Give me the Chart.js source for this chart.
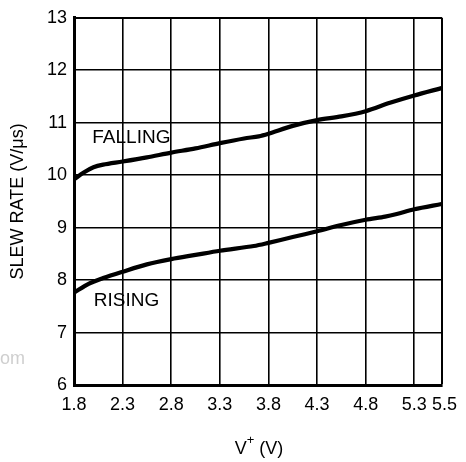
<!DOCTYPE html>
<html>
<head>
<meta charset="utf-8">
<script src="https://cdn.jsdelivr.net/npm/chart.js@4"></script>
<style>
  html, body { margin: 0; padding: 0; background: #fff; }
  #wrap { width: 466px; height: 462px; position: relative; }
</style>
</head>
<body>
<div id="wrap"><canvas id="c"></canvas></div>
<script>
// ---- data ----
const fallingX = [1.8, 1.9, 2.0, 2.1, 2.3, 2.55, 2.8, 3.05, 3.3, 3.55, 3.7, 3.8, 4.05, 4.3, 4.55, 4.8, 5.05, 5.3, 5.58];
const fallingY = [9.92, 10.05, 10.15, 10.20, 10.26, 10.34, 10.43, 10.51, 10.61, 10.70, 10.74, 10.79, 10.94, 11.05, 11.12, 11.22, 11.38, 11.52, 11.66];
const risingX = [1.8, 1.95, 2.1, 2.3, 2.55, 2.8, 3.05, 3.3, 3.65, 3.8, 4.05, 4.3, 4.55, 4.8, 5.0, 5.12, 5.3, 5.58];
const risingY = [7.76, 7.93, 8.04, 8.16, 8.30, 8.40, 8.48, 8.56, 8.65, 8.71, 8.82, 8.93, 9.05, 9.15, 9.21, 9.26, 9.35, 9.45];
const xTickValues = [1.8, 2.3, 2.8, 3.3, 3.8, 4.3, 4.8, 5.3, 5.585];
const xTickLabels = ["1.8", "2.3", "2.8", "3.3", "3.8", "4.3", "4.8", "5.3", " 5.5"];
const yTickValues = [6, 7, 8, 9, 10, 11, 12, 13];
const seriesLabels = ["FALLING", "RISING"];
const seriesLabelPos = [[2.39, 10.72], [2.34, 7.60]];
const yTitle = "SLEW RATE (V/\u03BCs)";
const xTitleMain = "V", xTitleSup = "+", xTitleRest = " (V)";

const FONT = "'Liberation Sans', Arial, Helvetica, sans-serif";

const toPts = (xs, ys) => xs.map((x, i) => ({ x: x, y: ys[i] }));

const annot = {
  id: 'annot',
  afterDatasetsDraw(chart) {
    const ctx = chart.ctx;
    const xs = chart.scales.x, ys = chart.scales.y;
    ctx.save();
    ctx.fillStyle = '#000';
    ctx.font = '19px ' + FONT;
    ctx.textAlign = 'center';
    ctx.textBaseline = 'middle';
    seriesLabels.forEach((t, i) => {
      ctx.fillText(t, xs.getPixelForValue(seriesLabelPos[i][0]), ys.getPixelForValue(seriesLabelPos[i][1]));
    });
    // x axis title with superscript
    const ca = chart.chartArea;
    const cx = (ca.left + ca.right) / 2 + 1;
    const base = 454;
    ctx.textAlign = 'left';
    ctx.textBaseline = 'alphabetic';
    ctx.font = '18px ' + FONT;
    const w1 = ctx.measureText(xTitleMain).width;
    const w3 = ctx.measureText(xTitleRest).width;
    ctx.font = '13px ' + FONT;
    const w2 = ctx.measureText(xTitleSup).width;
    let x0 = cx - (w1 + w2 + w3) / 2;
    ctx.font = '18px ' + FONT;
    ctx.fillText(xTitleMain, x0, base);
    ctx.font = '13px ' + FONT;
    ctx.fillText(xTitleSup, x0 + w1, base - 10);
    ctx.font = '18px ' + FONT;
    ctx.fillText(xTitleRest, x0 + w1 + w2, base);
    // faint watermark fragment
    ctx.fillStyle = '#cfcfcf';
    ctx.font = '18px ' + FONT;
    ctx.fillText('om', 0, 364);
    ctx.restore();
  }
};

new Chart(document.getElementById('c'), {
  type: 'line',
  data: {
    datasets: [
      { label: seriesLabels[0], data: toPts(fallingX, fallingY), borderColor: '#000', borderWidth: 4.2, pointRadius: 0, tension: 0.3, fill: false },
      { label: seriesLabels[1], data: toPts(risingX, risingY), borderColor: '#000', borderWidth: 4.2, pointRadius: 0, tension: 0.3, fill: false }
    ]
  },
  options: {
    responsive: true,
    maintainAspectRatio: false,
    animation: false,
    devicePixelRatio: 1,
    layout: { padding: { left: 0, right: 20, top: 13, bottom: 0 } },
    plugins: { legend: { display: false }, tooltip: { enabled: false } },
    scales: {
      x: {
        type: 'linear',
        min: 1.8,
        max: 5.585,
        afterBuildTicks: (s) => { s.ticks = xTickValues.map(v => ({ value: v })); },
        afterFit: (s) => { s.height = 77; },
        ticks: {
          color: '#000',
          font: { family: FONT, size: 18 },
          padding: 9,
          maxRotation: 0,
          autoSkip: false,
          callback: (v, i) => xTickLabels[i]
        },
        grid: { color: '#000', lineWidth: (c) => (c.index === xTickValues.length - 1 ? 2 : 1.6), drawTicks: false },
        border: { color: '#000', width: 3 }
      },
      y: {
        type: 'linear',
        min: 6,
        max: 13,
        afterBuildTicks: (s) => { s.ticks = yTickValues.map(v => ({ value: v })); },
        afterFit: (s) => { s.width = 74; },
        ticks: {
          color: '#000',
          font: { family: FONT, size: 18 },
          padding: 7,
          callback: (v) => String(v)
        },
        title: {
          display: true,
          text: yTitle,
          color: '#000',
          font: { family: FONT, size: 18 },
          padding: { top: 7, bottom: 0 }
        },
        grid: { color: '#000', lineWidth: (c) => (c.tick && c.tick.value === 13 ? 2 : 1.6), drawTicks: false },
        border: { color: '#000', width: 3 }
      }
    }
  },
  plugins: [annot]
});
</script>
</body>
</html>
